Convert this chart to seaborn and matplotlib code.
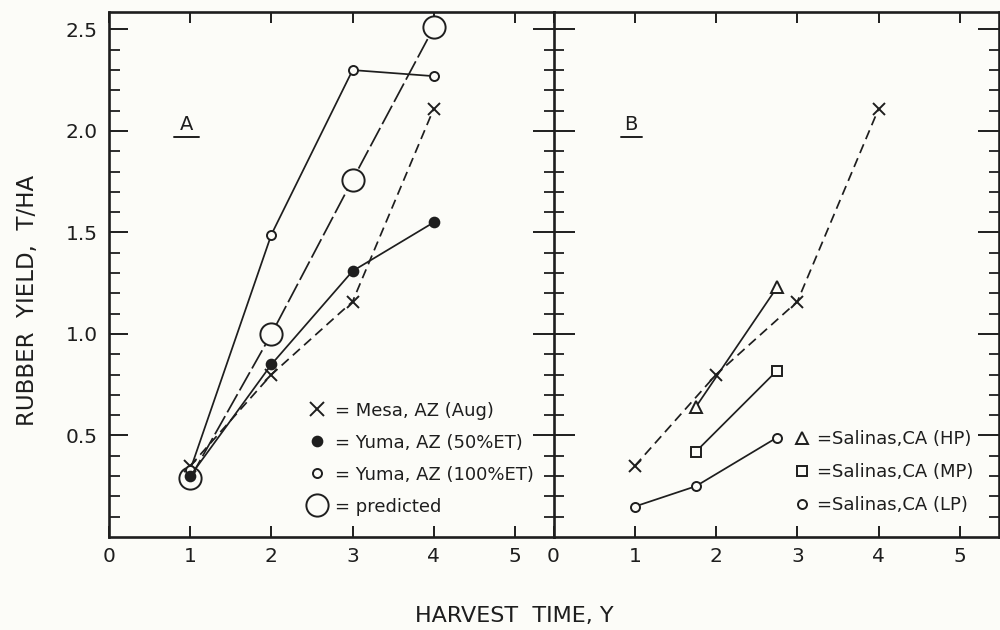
import matplotlib
matplotlib.use('Agg')
import matplotlib.pyplot as plt
from matplotlib.lines import Line2D
from matplotlib.ticker import FixedLocator
import seaborn as sns

# panel A - Arizona sites
years_a = [1, 2, 3, 4]
mesa_aug = [0.35, 0.80, 1.16, 2.11]
yuma_50et = [0.30, 0.85, 1.31, 1.55]
yuma_100et = [0.33, 1.49, 2.30, 2.27]
predicted = [0.29, 1.00, 1.76, 2.51]

# panel B - Salinas, CA
years_hp = [1.75, 2.75]
salinas_hp = [0.64, 1.23]
years_mp = [1.75, 2.75]
salinas_mp = [0.42, 0.82]
years_lp = [1, 1.75, 2.75]
salinas_lp = [0.15, 0.25, 0.49]

x_ticks = [0, 1, 2, 3, 4, 5]
y_ticks = [0.5, 1.0, 1.5, 2.0, 2.5]
y_minor = [0.1, 0.2, 0.3, 0.4, 0.6, 0.7, 0.8, 0.9, 1.1, 1.2, 1.3, 1.4,
           1.6, 1.7, 1.8, 1.9, 2.1, 2.2, 2.3, 2.4]

sns.set_style('ticks')
plt.rcParams['font.family'] = ['DejaVu Sans']

bg = '#fcfcf8'
ink = '#1e1e1e'
short_dash = (0, (5.5, 3.2))
long_dash = (0, (12, 2.5))

fig = plt.figure(figsize=(10, 6.3), dpi=100, facecolor=bg)
ax1 = fig.add_axes([0.109, 1 - 537 / 630, 0.4445, 525 / 630])
ax2 = fig.add_axes([0.5535, 1 - 537 / 630, 0.4455, 525 / 630])


def draw(ax, x, y, marker, ms, face, ls, z, mew=1.4):
    sns.lineplot(x=x, y=y, ax=ax, color=ink, linewidth=1.25, linestyle=ls,
                 marker=marker, markersize=ms, markerfacecolor=face,
                 markeredgecolor=ink, markeredgewidth=mew,
                 estimator=None, sort=False, zorder=z)


# A
draw(ax1, years_a, predicted, 'o', 16, bg, long_dash, 2)
draw(ax1, years_a, mesa_aug, 'x', 9, ink, short_dash, 3)
draw(ax1, years_a, yuma_100et, 'o', 6.5, bg, '-', 4)
draw(ax1, years_a, yuma_50et, 'o', 7, ink, '-', 5)

# B
draw(ax2, years_a, mesa_aug, 'x', 9, ink, short_dash, 3)
draw(ax2, years_hp, salinas_hp, '^', 8, bg, '-', 4)
draw(ax2, years_mp, salinas_mp, 's', 7, bg, '-', 4)
draw(ax2, years_lp, salinas_lp, 'o', 6.5, bg, '-', 4)

for ax in (ax1, ax2):
    ax.set_facecolor(bg)
    ax.set_ylim(0, 2.586)
    ax.set_xticks(x_ticks)
    ax.set_xticklabels([str(t) for t in x_ticks])
    ax.set_yticks(y_ticks)
    ax.yaxis.set_minor_locator(FixedLocator(y_minor))
    ax.set_xlabel('')
    ax.set_ylabel('')
    for s in ax.spines.values():
        s.set_linewidth(1.9)
        s.set_color(ink)
    ax.tick_params(axis='x', which='major', direction='in', top=True,
                   bottom=True, length=8, width=1.4, labelsize=14.5, pad=7,
                   color=ink, labelcolor=ink)

ax1.set_xlim(0, 5.474)
ax2.set_xlim(0, 5.48)
ax1.spines['right'].set_visible(False)
ax1.set_yticklabels(['0.5', '1.0', '1.5', '2.0', '2.5'])
ax1.tick_params(axis='y', which='major', direction='in', left=True,
                right=False, length=14, width=1.4, labelsize=14.5, pad=8,
                color=ink, labelcolor=ink)
ax1.tick_params(axis='y', which='minor', direction='in', left=True,
                right=False, length=8, width=1.3, color=ink)
ax2.tick_params(axis='y', which='major', direction='inout', left=True,
                right=True, labelleft=False, length=30, width=1.4, color=ink)
ax2.tick_params(axis='y', which='minor', direction='inout', left=True,
                right=True, length=14, width=1.3, color=ink)

# panel letters
for ax, letter, x0, x1 in ((ax1, 'A', 0.146, 0.203), (ax2, 'B', 0.151, 0.198)):
    ax.text((x0 + x1) / 2, 0.785, letter, transform=ax.transAxes,
            ha='center', va='center', fontsize=14, color=ink)
    ax.plot([x0, x1], [0.762, 0.762], transform=ax.transAxes, color=ink,
            lw=1.4, clip_on=False)

# legends
def proxy(marker, ms, face):
    return Line2D([], [], linestyle='none', marker=marker, markersize=ms,
                  markerfacecolor=face, markeredgecolor=ink,
                  markeredgewidth=1.4, color=ink)


leg_a = ax1.legend(
    [proxy('x', 10, ink), proxy('o', 7, ink), proxy('o', 6.5, bg),
     proxy('o', 16, bg)],
    ['= Mesa, AZ (Aug)', '= Yuma, AZ (50%ET)', '= Yuma, AZ (100%ET)',
     '= predicted'],
    loc='upper left', bbox_to_anchor=(0.448, 0.258), frameon=False,
    fontsize=13, handlelength=1.0, handletextpad=0.5, borderpad=0,
    borderaxespad=0, labelspacing=0.78, labelcolor=ink)

leg_b = ax2.legend(
    [proxy('^', 8, bg), proxy('s', 7, bg), proxy('o', 6.5, bg)],
    ['=Salinas,CA (HP)', '=Salinas,CA (MP)', '=Salinas,CA (LP)'],
    loc='upper left', bbox_to_anchor=(0.538, 0.203), frameon=False,
    fontsize=13, handlelength=1.0, handletextpad=0.3, borderpad=0,
    borderaxespad=0, labelspacing=0.82, labelcolor=ink)

fig.text(0.514, 1 - 616 / 630, 'HARVEST  TIME, Y', ha='center', va='center',
         fontsize=16, color=ink)
fig.text(0.028, 1 - 300 / 630, 'RUBBER  YIELD,  T/HA', ha='center',
         va='center', rotation=90, fontsize=16.5, color=ink)

fig.savefig('out.png', dpi=100, facecolor=bg)
